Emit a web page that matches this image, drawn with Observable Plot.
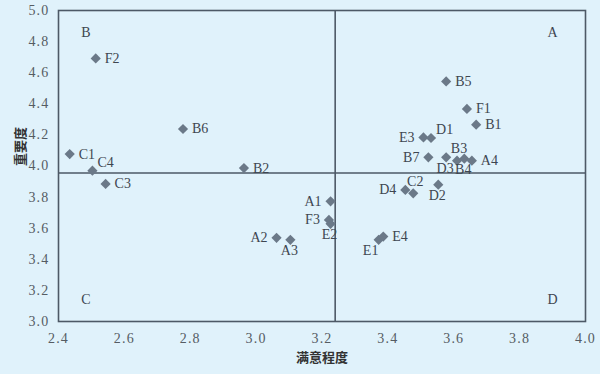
<!DOCTYPE html>
<html>
<head>
<meta charset="utf-8">
<script src="https://cdn.jsdelivr.net/npm/d3@7"></script>
<script src="https://cdn.jsdelivr.net/npm/@observablehq/plot@0.6"></script>
<style>
html, body { margin: 0; padding: 0; background: #e0f2fb; }
#chart svg { display: block; }
#chart g[aria-label="x-axis tick label"] text,
#chart g[aria-label="y-axis tick label"] text { letter-spacing: 1.2px; }
</style>
</head>
<body>
<div id="chart"></div>
<script>
// Indicator codes
const names = ["F2","B6","C1","C4","C3","B2","A1","F3","E2","A2","A3","E1","E4","D4","C2","D2","B5","F1","B1","E3","D1","B7","D3","B3","B4","A4"];
// 满意程度 (x)
const satisfaction = [2.513,2.778,2.434,2.503,2.543,2.963,3.226,3.221,3.226,3.062,3.104,3.372,3.386,3.453,3.477,3.553,3.577,3.640,3.668,3.508,3.531,3.523,3.577,3.610,3.632,3.655];
// 重要度 (y)
const importance = [4.692,4.238,4.077,3.970,3.885,3.987,3.773,3.653,3.628,3.538,3.525,3.525,3.546,3.846,3.824,3.880,4.544,4.367,4.266,4.184,4.180,4.056,4.056,4.034,4.047,4.034];
// which side of the marker each code label sits on
const labelSide = ["r","r","r","tr","r","r","l","l","b","l","b","bl","r","l","t","b","r","r","r","l","tr","l","b","t","b","r"];

const meanSatisfaction = 3.24;
const meanImportance = 3.955;

const quadrantNames = ["A","B","C","D"];
const quadrantX = [3.90, 2.483, 2.483, 3.90];
const quadrantY = [4.86, 4.86, 3.14, 3.14];

const xTicks = [2.4,2.6,2.8,3.0,3.2,3.4,3.6,3.8,4.0];
const yTicks = [3.0,3.2,3.4,3.6,3.8,4.0,4.2,4.4,4.6,4.8,5.0];

const xLabel = "满意程度";
const yLabel = "重要度";

const points = names.map((n, i) => ({name: n, x: satisfaction[i], y: importance[i], side: labelSide[i]}));
const quadrants = quadrantNames.map((q, i) => ({q, x: quadrantX[i], y: quadrantY[i]}));

const ink = "#4d5966";
const labelColor = "#3e4650";
const fontLatin = "'Liberation Serif', 'Times New Roman', serif";

const sideOpts = {
  r:  {dx: 9,  dy: 0,   textAnchor: "start"},
  l:  {dx: -9, dy: 0,   textAnchor: "end"},
  t:  {dx: 2,  dy: -12, textAnchor: "middle"},
  b:  {dx: -1, dy: 11,  textAnchor: "middle"},
  tr: {dx: 5,  dy: -8,  textAnchor: "start"},
  bl: {dx: -8, dy: 11,  textAnchor: "middle"}
};

const labelMarks = Object.entries(sideOpts).map(([side, o]) =>
  Plot.text(points.filter(d => d.side === side), {
    x: "x", y: "y", text: "name", fill: labelColor, fontSize: 14, ...o
  })
);

const chart = Plot.plot({
  width: 600,
  height: 374,
  marginLeft: 58,
  marginRight: 15,
  marginTop: 10,
  marginBottom: 53,
  style: {background: "#e0f2fb", fontFamily: fontLatin, fontSize: "14px", color: "#555c63"},
  x: {domain: [2.4, 4.0], ticks: xTicks, tickFormat: d3.format(".1f"), tickSize: 0, tickPadding: 12, label: null},
  y: {domain: [3.0, 5.0], ticks: yTicks, tickFormat: d3.format(".1f"), tickSize: 0, tickPadding: 9, label: null},
  marks: [
    Plot.ruleX([meanSatisfaction], {stroke: ink, strokeWidth: 1.6}),
    Plot.ruleY([meanImportance], {stroke: ink, strokeWidth: 1.6}),
    Plot.frame({stroke: ink, strokeWidth: 1.6}),
    Plot.dot(points, {x: "x", y: "y", symbol: "diamond2", r: 4.6, fill: "#6b7988", stroke: "none"}),
    ...labelMarks,
    Plot.text(quadrants, {x: "x", y: "y", text: "q", fill: labelColor, fontSize: 14}),
    Plot.text([xLabel], {frameAnchor: "bottom", dy: 40, text: d => d, fill: "#333", fontSize: 13, fontWeight: "bold",
      fontFamily: "'Noto Sans CJK SC', sans-serif"}),
    Plot.text([yLabel], {frameAnchor: "left", dx: -38, rotate: -90, text: d => d, fill: "#333", fontSize: 13, fontWeight: "bold",
      fontFamily: "'Noto Sans CJK SC', sans-serif"})
  ]
});
document.getElementById("chart").appendChild(chart);
</script>
</body>
</html>
